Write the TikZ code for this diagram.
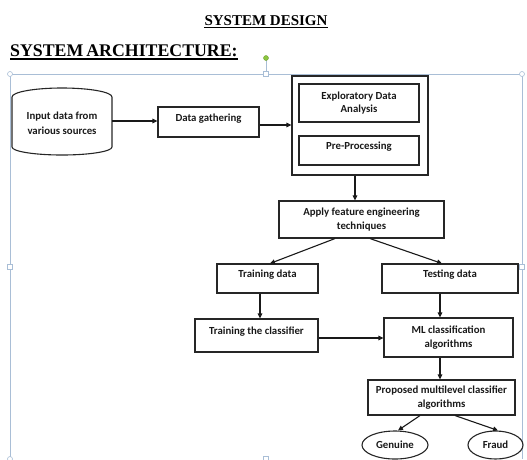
\documentclass[tikz,border=0pt]{standalone}
\usepackage{fontspec}
\setmainfont{Liberation Serif}
\newfontfamily\boxfont{Carlito}
\usetikzlibrary{arrows.meta,shapes.geometric}
\definecolor{selblue}{HTML}{A9BED6}
\definecolor{handlegreen}{HTML}{8CC63F}
\tikzset{
  box/.style={draw=black!85, line width=1.1pt, rectangle, inner sep=0pt, align=center,
    font=\boxfont\bfseries\fontsize{10.8}{13.5}\selectfont, text=black!90},
  toptext/.style={text height=7.5pt, text depth=9.5pt},
  oval/.style={draw=black!85, line width=1.1pt, ellipse, inner sep=0pt,
    font=\boxfont\bfseries\fontsize{10.8}{13}\selectfont, text=black!90},
  conn/.style={draw=black!90, line width=1.1pt, -{Triangle[length=5pt,width=4.5pt]}},
  sel/.style={draw=selblue, line width=0.8pt},
  handle/.style={draw=selblue, fill=white, line width=0.6pt},
}
\begin{document}
\begin{tikzpicture}[x=1pt,y=-1pt]
\useasboundingbox (0,0) rectangle (527,459);
% titles
\node[font=\fontsize{15}{17}\selectfont\bfseries, inner sep=0pt, anchor=base] (t1) at (266,25) {SYSTEM DESIGN};
\draw[line width=0.9pt] ([yshift=-2pt]t1.base west) -- ([yshift=-2pt]t1.base east);
\node[font=\fontsize{17.8}{20}\selectfont\bfseries, inner sep=0pt, anchor=base west] (t2) at (10,56) {SYSTEM\,ARCHITECTURE:};
\draw[line width=1.3pt] ([yshift=-3pt]t2.base west) -- ([yshift=-3pt]t2.base east);
% selection frame
\draw[sel] (10,459) -- (10,74) -- (522,74) -- (522,459);
\draw[sel] (266,74) -- (266,58);
\node[handle, circle, minimum size=5pt, inner sep=0pt] (hc1) at (10,74) {};
\node[handle, circle, minimum size=5pt, inner sep=0pt] (hc2) at (522,74) {};
\node[handle, rectangle, minimum size=4.5pt, inner sep=0pt] (hs1) at (266,74) {};
\node[handle, rectangle, minimum size=4.5pt, inner sep=0pt] (hs2) at (10,267) {};
\node[handle, rectangle, minimum size=4.5pt, inner sep=0pt] (hs3) at (522,267) {};
\node[handle, rectangle, minimum size=4.5pt, inner sep=0pt] (hs4) at (266,459) {};
\node[handle, circle, minimum size=5pt, inner sep=0pt] (hc3) at (10,459) {};
\node[draw=handlegreen!80!black, fill=handlegreen, circle, minimum size=5pt, inner sep=0pt] (hg) at (266,58) {};
% cylinder
\node[align=center, inner sep=0pt, font=\boxfont\bfseries\fontsize{10.8}{14.5}\selectfont, text=black!90, minimum width=100pt, minimum height=60pt] (cyl) at (62,123) {Input data from\\various sources};
\draw[draw=black!85, line width=1.1pt] (12,97) arc[start angle=180, end angle=0, x radius=50, y radius=-9] -- (112,147) arc[start angle=0, end angle=-180, x radius=50, y radius=-8] -- cycle;
% boxes
\node[box, toptext, minimum width=101pt, minimum height=30pt] (gather) at (208.5,122) {Data gathering};
\node[draw=black!85, line width=1.1pt, minimum width=136pt, minimum height=99pt, inner sep=0pt] (outer) at (360,125.5) {};
\node[box, minimum width=120pt, minimum height=38pt] (eda) at (359,103) {Exploratory Data\\Analysis};
\node[box, toptext, minimum width=120pt, minimum height=29pt] (pre) at (359,150.5) {Pre-Processing};
\node[box, minimum width=165pt, minimum height=37pt] (feat) at (361.5,219.5) {Apply feature engineering\\techniques};
\node[box, toptext, minimum width=101pt, minimum height=29pt] (train) at (267.5,278.5) {Training data};
\node[box, toptext, minimum width=136pt, minimum height=29pt] (test) at (450,278.5) {Testing data};
\node[box, toptext, minimum width=123pt, minimum height=33pt] (tclass) at (256.5,335.5) {Training the classifier};
\node[box, minimum width=129pt, minimum height=39pt] (ml) at (448.5,337.5) {ML classification\\algorithms};
\node[box, minimum width=147pt, minimum height=35pt] (prop) at (441.5,397.5) {Proposed multilevel classifier\\algorithms};
\node[oval, minimum width=66pt, minimum height=28pt] (gen) at (395,445) {Genuine};
\node[oval, minimum width=55pt, minimum height=28pt] (fraud) at (495.5,445) {Fraud};
% connectors
\draw[conn] ([yshift=2pt]cyl.east) -- ([yshift=1pt]gather.west);
\draw[conn] ([yshift=-3pt]gather.east) -- ([yshift=-3pt]gather.east -| outer.west);
\draw[conn] ([xshift=-5pt]outer.south) -- ([xshift=-5pt]outer.south |- feat.north);
\draw[conn] ([xshift=-26.5pt]feat.south) -- ([xshift=2.5pt]train.north);
\draw[conn] ([xshift=8.5pt]feat.south) -- ([xshift=-8pt]test.north);
\draw[conn] ([xshift=-7.5pt]train.south) -- ([xshift=-7.5pt]train.south |- tclass.north);
\draw[conn] ([xshift=-10pt]test.south) -- ([xshift=-10pt]test.south |- ml.north);
\draw[conn] ([yshift=-2.5pt]tclass.east) -- ([yshift=-2.5pt]tclass.east -| ml.west);
\draw[conn] ([xshift=-8.5pt]ml.south) -- ([xshift=-8.5pt]ml.south |- prop.north);
\draw[conn] ([xshift=-21.5pt]prop.south) -- ([xshift=3pt]gen.north);
\draw[conn] ([xshift=13.5pt]prop.south) -- ([xshift=2.5pt]fraud.north);
\end{tikzpicture}
\end{document}
